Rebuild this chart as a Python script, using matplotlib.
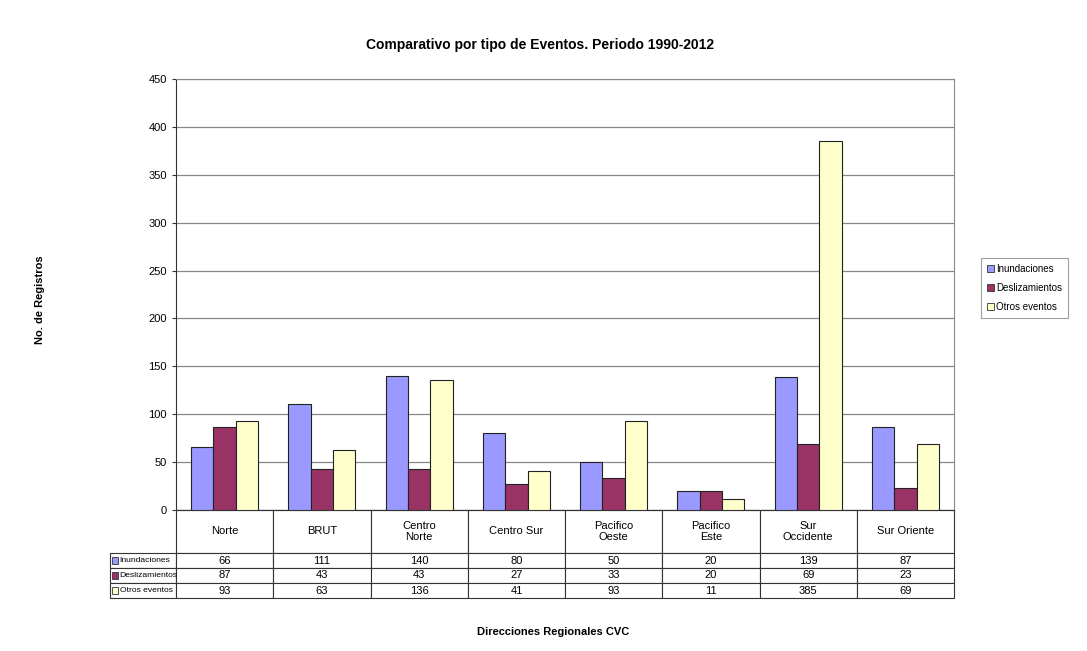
import matplotlib
matplotlib.use('Agg')
import matplotlib.pyplot as plt
import numpy as np
from matplotlib.patches import Rectangle, Patch

plt.rcParams['font.family'] = ['Liberation Sans', 'DejaVu Sans']

categories = ['Norte', 'BRUT', 'Centro\nNorte', 'Centro Sur', 'Pacifico\nOeste',
              'Pacifico\nEste', 'Sur\nOccidente', 'Sur Oriente']
inundaciones = [66, 111, 140, 80, 50, 20, 139, 87]
deslizamientos = [87, 43, 43, 27, 33, 20, 69, 23]
otros = [93, 63, 136, 41, 93, 11, 385, 69]
series_names = ['Inundaciones', 'Deslizamientos', 'Otros eventos']
colors = ['#9999FF', '#993366', '#FFFFCC']

fig = plt.figure(figsize=(10.87, 6.51), dpi=100)
ax = fig.add_axes([176 / 1087, 1 - 510 / 651, 778 / 1087, 431 / 651])

x = np.arange(len(categories))
w = 0.23
for i, (vals, c) in enumerate(zip([inundaciones, deslizamientos, otros], colors)):
    ax.bar(x + (i - 1) * w, vals, w, color=c, edgecolor='#222222', linewidth=0.8, zorder=3)

ax.set_xlim(-0.5, len(categories) - 0.5)
ax.set_ylim(0, 450)
ax.set_yticks(range(0, 451, 50))
ax.set_xticks([])
ax.tick_params(axis='y', labelsize=8, length=3, color='#333333')
ax.yaxis.grid(True, color='#888888', linewidth=0.9, zorder=0)
for s in ['top', 'right']:
    ax.spines[s].set_color('#888888')
ax.spines['left'].set_color('#333333')
ax.spines['bottom'].set_color('#333333')

# data table below the plot (row labels drawn separately next to colour keys)
cell_text = []
for vals in [inundaciones, deslizamientos, otros]:
    cell_text.append([''] + [str(v) for v in vals])
lbl_w = 66 / 778
tbl_h = 88 / 431
tbl = ax.table(cellText=cell_text, colLabels=[''] + categories,
               colWidths=[66] + [97] * len(categories),
               cellLoc='center', loc='bottom',
               bbox=[-lbl_w, -tbl_h, 1 + lbl_w, tbl_h])
tbl.auto_set_font_size(False)
tbl.set_fontsize(8)
for (r, c), cell in tbl.get_celld().items():
    cell.set_edgecolor('#333333')
    cell.set_linewidth(0.8)
    cell.set_height(43 if r == 0 else 15)
tbl[0, 0].visible_edges = ''

hdr = 43 / 431
row = 15 / 431
for i, (c, name) in enumerate(zip(colors, series_names)):
    yc = -hdr - (i + 0.5) * row
    ax.add_patch(Rectangle((-lbl_w + 0.003, yc - 0.007), 0.0075, 0.014,
                           transform=ax.transAxes, facecolor=c,
                           edgecolor='#333333', linewidth=0.6, clip_on=False,
                           zorder=5))
    ax.text(-lbl_w + 0.0125, yc, name, transform=ax.transAxes, fontsize=6.1,
            ha='left', va='center', clip_on=False, zorder=6)

fig.text(540 / 1087, 1 - 45 / 651, 'Comparativo por tipo de Eventos. Periodo 1990-2012',
         ha='center', va='center', fontsize=10, fontweight='bold')
fig.text(40 / 1087, 1 - 300 / 651, 'No. de Registros', rotation=90,
         ha='center', va='center', fontsize=8, fontweight='bold')
fig.text(553 / 1087, 1 - 632 / 651, 'Direcciones Regionales CVC',
         ha='center', va='center', fontsize=8, fontweight='bold')

handles = [Patch(facecolor=c, edgecolor='#333333', linewidth=0.6, label=n)
           for c, n in zip(colors, series_names)]
leg = fig.legend(handles=handles, loc='center left',
                 bbox_to_anchor=(976 / 1087, 1 - 288 / 651), fontsize=7,
                 frameon=True, fancybox=False, edgecolor='#888888',
                 handlelength=0.7, handleheight=0.7, handletextpad=0.3,
                 labelspacing=0.9, borderpad=0.6)
leg.get_frame().set_linewidth(0.8)

fig.savefig('out.png', dpi=100)
